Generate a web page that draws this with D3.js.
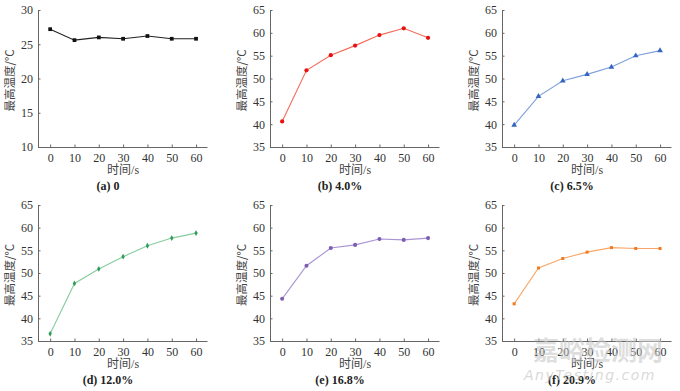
<!DOCTYPE html>
<html><head><meta charset="utf-8">
<script src="https://cdn.jsdelivr.net/npm/d3@7"></script>
<style>
body{margin:0;background:#fff;}
svg{display:block;}
.tick text{font-family:"Liberation Serif","DejaVu Serif",serif;font-size:12px;fill:#333;}
</style></head>
<body>
<svg id="c" width="680" height="391"></svg>
<script>
const times = [0, 10, 20, 30, 40, 50, 60];
const xTicks = [0, 10, 20, 30, 40, 50, 60];
const valsA = [27.2, 25.6, 26.0, 25.8, 26.2, 25.8, 25.8];
const valsB = [40.6, 51.8, 55.1, 57.2, 59.5, 61.0, 58.9];
const valsC = [39.8, 46.1, 49.5, 50.9, 52.5, 55.0, 56.1];
const valsD = [36.6, 47.7, 50.9, 53.6, 56.0, 57.7, 58.8];
const valsE = [44.3, 51.6, 55.5, 56.2, 57.5, 57.3, 57.7];
const valsF = [43.2, 51.1, 53.2, 54.6, 55.6, 55.4, 55.4];
const yTicksA = [10, 15, 20, 25, 30];
const yTicksOther = [35, 40, 45, 50, 55, 60, 65];
const captions = ["(a) 0", "(b) 4.0%", "(c) 6.5%", "(d) 12.0%", "(e) 16.8%", "(f) 20.9%"];
const yLabel = "最高温度/°C";
const xLabel = "时间/s";

const panels = [
  {vals: valsA, dom: [10, 30], ticks: yTicksA, line: "#222", mark: "#111", sym: d3.symbolSquare, size: 14},
  {vals: valsB, dom: [35, 65], ticks: yTicksOther, line: "#f66a5a", mark: "#e81010", sym: d3.symbolCircle, size: 14},
  {vals: valsC, dom: [35, 65], ticks: yTicksOther, line: "#7d9fdc", mark: "#3565c0", sym: d3.symbolTriangle, size: 14},
  {vals: valsD, dom: [35, 65], ticks: yTicksOther, line: "#86cc9e", mark: "#2f9d58", sym: d3.symbolDiamond, size: 10},
  {vals: valsE, dom: [35, 65], ticks: yTicksOther, line: "#a994d4", mark: "#7d5db3", sym: d3.symbolCircle, size: 13},
  {vals: valsF, dom: [35, 65], ticks: yTicksOther, line: "#f9a768", mark: "#f07a22", sym: d3.symbolSquare, size: 9}
];

const svg = d3.select("#c");
const colX = [38, 270, 502];
const rowY = [[147, 10], [341, 205]];

panels.forEach((p, i) => {
  const ax = colX[i % 3];
  const [yb, yt] = rowY[Math.floor(i / 3)];
  const x = d3.scaleLinear().domain([-5, 64.5]).range([ax, ax + 169]);
  const y = d3.scaleLinear().domain(p.dom).range([yb, yt]);
  const g = svg.append("g");

  const xa = g.append("g").attr("transform", `translate(0,${yb})`)
    .call(d3.axisBottom(x).tickValues(xTicks).tickSize(-2.5).tickPadding(6).tickSizeOuter(0));
  const ya = g.append("g").attr("transform", `translate(${ax},0)`)
    .call(d3.axisLeft(y).tickValues(p.ticks).tickSize(-2.5).tickPadding(5).tickSizeOuter(0));
  [xa, ya].forEach(a => {
    a.select(".domain").attr("stroke", "#666").attr("stroke-width", 1);
    a.selectAll(".tick line").attr("stroke", "#666");
  });

  const line = d3.line().x((d, j) => x(times[j])).y(d => y(d));
  g.append("path").datum(p.vals).attr("d", line)
    .attr("fill", "none").attr("stroke", p.line).attr("stroke-width", 1.1);
  g.selectAll(".m").data(p.vals).enter().append("path")
    .attr("transform", (d, j) => `translate(${x(times[j])},${y(d)})`)
    .attr("d", d3.symbol().type(p.sym).size(p.size))
    .attr("fill", p.mark);

  g.append("text")
    .attr("transform", `translate(${ax - 24},${(yb + yt) / 2 + 2}) rotate(-90)`)
    .attr("text-anchor", "middle")
    .attr("font-family", "'Noto Sans CJK SC', sans-serif")
    .attr("font-size", 11.5).attr("fill", "#444")
    .text(yLabel);

  g.append("text")
    .attr("x", x(30)).attr("y", yb + 27)
    .attr("text-anchor", "middle")
    .attr("font-family", "'Liberation Serif', 'Noto Sans CJK SC', serif")
    .attr("font-size", 12).attr("fill", "#444")
    .text(xLabel);

  g.append("text")
    .attr("x", ax + 70).attr("y", yb + 43)
    .attr("text-anchor", "middle")
    .attr("font-family", "'Liberation Serif', 'DejaVu Serif', serif")
    .attr("font-weight", "bold")
    .attr("font-size", 12).attr("fill", "#222")
    .text(captions[i]);
});

// watermark
svg.append("text").attr("x", 598).attr("y", 360).attr("text-anchor", "middle")
  .attr("font-family", "'Noto Sans CJK SC', sans-serif").attr("font-weight", "bold")
  .attr("font-size", 26).attr("fill", "#c8c8c8").attr("fill-opacity", 0.6)
  .text("嘉峪检测网");
svg.append("text").attr("x", 590).attr("y", 380).attr("text-anchor", "middle")
  .attr("font-family", "'DejaVu Sans', sans-serif").attr("font-style", "italic")
  .attr("font-size", 14).attr("letter-spacing", 1.5).attr("fill", "#c8c8c8").attr("fill-opacity", 0.7)
  .text("AnyTesting.com");
</script>
</body></html>
